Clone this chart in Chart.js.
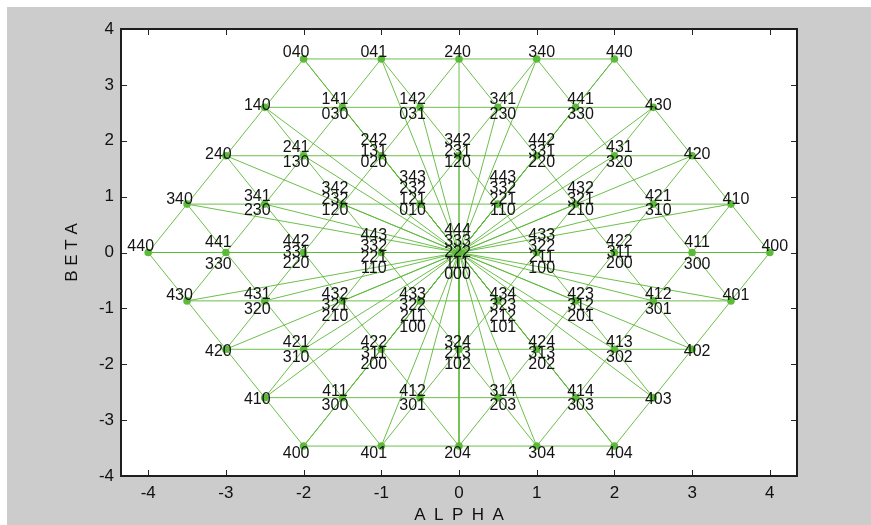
<!DOCTYPE html>
<html><head><meta charset="utf-8">
<script src="https://cdn.jsdelivr.net/npm/chart.js@4/dist/chart.umd.min.js"></script>
<style>html,body{margin:0;padding:0;background:#fff}#wrap{width:871px;height:525px}</style>
</head><body><div id="wrap"><canvas id="c" width="871" height="525"></canvas></div>
<script>
// ---- data ----
const rowBeta = [3.464, 2.598, 1.732, 0.866, 0, -0.866, -1.732, -2.598, -3.464];
const rowAlpha = [
  [-2, -1, 0, 1, 2],
  [-2.5, -1.5, -0.5, 0.5, 1.5, 2.5],
  [-3, -2, -1, 0, 1, 2, 3],
  [-3.5, -2.5, -1.5, -0.5, 0.5, 1.5, 2.5, 3.5],
  [-4, -3, -2, -1, 0, 1, 2, 3, 4],
  [-3.5, -2.5, -1.5, -0.5, 0.5, 1.5, 2.5, 3.5],
  [-3, -2, -1, 0, 1, 2, 3],
  [-2.5, -1.5, -0.5, 0.5, 1.5, 2.5],
  [-2, -1, 0, 1, 2]
];
const rowLabels = [
  ["040", "041", "240", "340", "440"],
  ["140", "141/030", "142/031", "341/230", "441/330", "430"],
  ["240", "241/130", "242/131/020", "342/231/120", "442/331/220", "431/320", "420"],
  ["340", "341/230", "342/232/120", "343/232/121/010", "443/332/221/110", "432/321/210", "421/310", "410"],
  ["440", "441/330", "442/331/220", "443/332/221/110", "444/333/222/111/000", "433/322/211/100", "422/311/200", "411/300", "400"],
  ["430", "431/320", "432/321/210", "433/322/211/100", "434/323/212/101", "423/312/201", "412/301", "401"],
  ["420", "421/310", "422/311/200", "324/213/102", "424/313/202", "413/302", "402"],
  ["410", "411/300", "412/301", "314/203", "414/303", "403"],
  ["400", "401", "204", "304", "404"]
];
const xTicks = [-4, -3, -2, -1, 0, 1, 2, 3, 4];
const yTicks = [-4, -3, -2, -1, 0, 1, 2, 3, 4];
const xTitle = "A\u2002L\u2002P\u2002H\u2002A";
const yTitle = "B E T A";

// ---- build points ----
const pts = [];
rowAlpha.forEach((xs, r) => xs.forEach((x, i) => pts.push({x: x, y: rowBeta[r], row: 4 - r, lab: rowLabels[r][i].split('/')})));
const center = pts.find(p => p.x === 0 && p.y === 0);

// triangular grid: join neighbouring points
const gridData = [];
for (let i = 0; i < pts.length; i++) for (let j = i + 1; j < pts.length; j++) {
  const a = pts[i], b = pts[j];
  const dx = Math.abs(a.x - b.x), dy = Math.abs(a.y - b.y);
  if ((dy < 0.01 && Math.abs(dx - 1) < 0.01) || (Math.abs(dx - 0.5) < 0.01 && Math.abs(dy - 0.866) < 0.01)) {
    gridData.push({x: a.x, y: a.y}, {x: b.x, y: b.y}, {x: b.x, y: null});
  }
}
// rays from the origin to every vector
const rayData = [];
pts.forEach(p => { if (p !== center) rayData.push({x: center.x, y: center.y}, {x: p.x, y: p.y}, {x: p.x, y: null}); });

const LINE = 'rgba(92,184,56,0.9)';
const FONT = "'Liberation Sans', Arial, Helvetica, sans-serif";

function labelOffsets(row, n) {
  if (n === 1) return [{4: -8, 3: -3, 2: -2, 1: -6, 0: -7, '-1': -7, '-2': 1, '-3': 1, '-4': 6}[row]];
  const step = n === 2 ? 14.5 : 11;
  const out = [];
  for (let i = 0; i < n; i++) {
    if (row > 0) out.push(5.5 - (n - 1 - i) * step);
    else if (row < 0) out.push(-7.5 + i * step);
    else out.push(n === 2 ? (i === 0 ? -11.5 : 10.5) : -1.5 + (i - (n - 1) / 2) * 11);
  }
  return out;
}

const framePlugin = {
  id: 'frame',
  beforeDraw(chart) {
    const {ctx, width, height, chartArea: a} = chart;
    ctx.save();
    ctx.fillStyle = '#ffffff'; ctx.fillRect(0, 0, width, height);
    ctx.fillStyle = '#cccccc'; ctx.fillRect(7, 7, width - 7, height - 7);
    ctx.fillStyle = '#ffffff'; ctx.fillRect(a.left, a.top, a.right - a.left, a.bottom - a.top);
    ctx.restore();
  },
  afterDatasetsDraw(chart) {
    const {ctx} = chart;
    const xs = chart.scales.x, ys = chart.scales.y;
    ctx.save();
    ctx.fillStyle = '#141414';
    ctx.font = '16px ' + FONT;
    ctx.textAlign = 'center';
    ctx.textBaseline = 'alphabetic';
    pts.forEach(p => {
      const px = xs.getPixelForValue(p.x), py = ys.getPixelForValue(p.y);
      const dx = p.x < 0 ? -7.5 : (p.x > 0 ? 5 : -1.5);
      const offs = labelOffsets(p.row, p.lab.length);
      p.lab.forEach((t, i) => ctx.fillText(t, px + dx, py + offs[i] + 5.7));
    });
    ctx.restore();
  },
  afterDraw(chart) {
    const {ctx, chartArea: a} = chart;
    const xs = chart.scales.x, ys = chart.scales.y;
    ctx.save();
    ctx.strokeStyle = '#262626';
    ctx.lineWidth = 1;
    ctx.beginPath();
    xTicks.forEach(v => {
      const x = Math.round(xs.getPixelForValue(v)) + 0.5;
      ctx.moveTo(x, a.bottom); ctx.lineTo(x, a.bottom - 6);
      ctx.moveTo(x, a.top); ctx.lineTo(x, a.top + 6);
    });
    yTicks.forEach(v => {
      const y = Math.round(ys.getPixelForValue(v)) + 0.5;
      ctx.moveTo(a.left, y); ctx.lineTo(a.left + 6, y);
      ctx.moveTo(a.right, y); ctx.lineTo(a.right - 6, y);
    });
    ctx.stroke();
    ctx.lineWidth = 2;
    ctx.strokeStyle = '#1e1e1e';
    ctx.strokeRect(a.left, a.top, a.right - a.left, a.bottom - a.top);
    ctx.restore();
  }
};

new Chart(document.getElementById('c'), {
  type: 'scatter',
  data: {
    datasets: [
      {data: rayData, showLine: true, spanGaps: false, borderColor: LINE, borderWidth: 1, pointRadius: 0, pointHoverRadius: 0},
      {data: gridData, showLine: true, spanGaps: false, borderColor: LINE, borderWidth: 1, pointRadius: 0, pointHoverRadius: 0},
      {data: pts.map(p => ({x: p.x, y: p.y})), showLine: false, pointRadius: 3.8, pointBackgroundColor: '#5cbb3a', pointBorderWidth: 0, pointBorderColor: '#5cbb3a'}
    ]
  },
  options: {
    responsive: false, animation: false, devicePixelRatio: 1,
    layout: {padding: {left: 0, right: 74, top: 29, bottom: 0}},
    plugins: {legend: {display: false}, tooltip: {enabled: false}},
    scales: {
      x: {
        type: 'linear', min: -4.35, max: 4.35,
        afterFit(s) { s.height = 49; },
        grid: {display: false, drawTicks: false}, border: {display: false},
        ticks: {stepSize: 1, includeBounds: false, padding: 7, color: '#111', font: {family: FONT, size: 17}, callback: v => String(v)},
        afterBuildTicks(s) { s.ticks = xTicks.map(v => ({value: v})); },
        title: {display: true, text: xTitle, color: '#111', font: {family: FONT, size: 17}, padding: {top: 0, bottom: -1}}
      },
      y: {
        type: 'linear', min: -4, max: 4,
        afterFit(s) { s.width = 121; },
        grid: {display: false, drawTicks: false}, border: {display: false},
        ticks: {stepSize: 1, includeBounds: false, padding: 7, color: '#111', font: {family: FONT, size: 17}, callback: v => String(v)},
        afterBuildTicks(s) { s.ticks = yTicks.map(v => ({value: v})); },
        title: {display: true, text: yTitle, color: '#111', font: {family: FONT, size: 17}, padding: {top: 62, bottom: 0}}
      }
    }
  },
  plugins: [framePlugin]
});
</script></body></html>
